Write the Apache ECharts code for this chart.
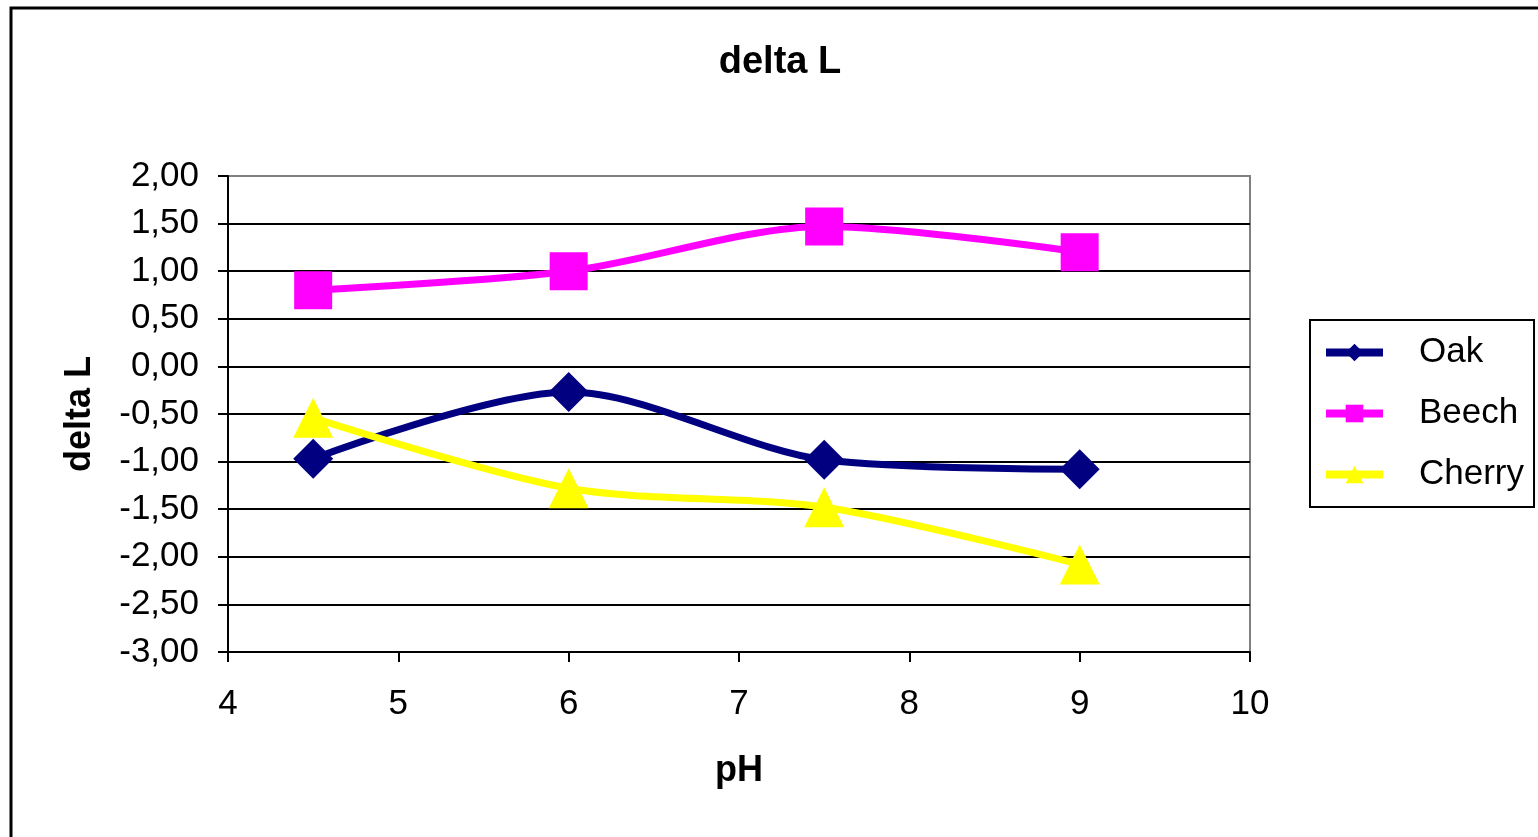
<!DOCTYPE html>
<html>
<head>
<meta charset="utf-8">
<script src="https://cdn.jsdelivr.net/npm/echarts@6/dist/echarts.min.js"></script>
<style>
  html, body { margin: 0; padding: 0; background: #fff; }
  #main { width: 1538px; height: 837px; }
</style>
</head>
<body>
<div id="main"></div>
<script>
// values
var phValues = [4.5, 6, 7.5, 9];
var oakValues = [-0.97, -0.27, -0.98, -1.08];
var beechValues = [0.80, 1.00, 1.47, 1.20];
var cherryValues = [-0.54, -1.28, -1.48, -2.08];
var seriesNames = ['Oak', 'Beech', 'Cherry'];

var chartDom = document.getElementById('main');
var myChart = echarts.init(chartDom);

var font = 'Liberation Sans, Arial, sans-serif';

function pairs(xs, ys) {
    return xs.map((x, i) => [x, ys[i]]);
}

function makeSeries(name, values, color, symbol, size) {
    return {
        name: name,
        type: 'line',
        data: pairs(phValues, values),
        smooth: 0.3,
        symbol: symbol,
        symbolSize: size,
        color: color,
        lineStyle: { width: 7, color: color },
        itemStyle: { color: color },
        emphasis: { disabled: true }
    };
}

var option = {
    animation: false,
    textStyle: { fontFamily: font },
    title: {
        text: 'delta L',
        left: 775,
        top: 39,
        textAlign: 'center',
        textStyle: { fontSize: 38, fontWeight: 'bold', color: '#000', fontFamily: font }
    },
    graphic: [{
        type: 'rect',
        shape: { x: 11, y: 8, width: 1700, height: 1000 },
        style: { fill: 'none', stroke: '#000', lineWidth: 3 },
        silent: true
    }],
    grid: {
        left: 228,
        right: 288,
        top: 176,
        bottom: 185,
        show: true,
        borderColor: '#808080',
        borderWidth: 2,
        backgroundColor: 'transparent'
    },
    legend: {
        data: seriesNames,
        orient: 'vertical',
        left: 1310,
        top: 320,
        padding: [14, 10, 14, 12],
        itemWidth: 57,
        itemHeight: 22,
        itemGap: 24,
        borderColor: '#000',
        borderWidth: 2,
        lineStyle: { width: 8 },
        textStyle: { fontSize: 35, color: '#000', fontFamily: font, lineHeight: 37, padding: [0, 0, 0, 31] }
    },
    xAxis: {
        type: 'value',
        min: 4,
        max: 10,
        interval: 1,
        name: 'pH',
        nameLocation: 'middle',
        nameGap: 101,
        nameTextStyle: { fontSize: 36, fontWeight: 'bold', color: '#000', fontFamily: font },
        axisLine: { show: true, onZero: false, lineStyle: { color: '#000', width: 2 } },
        axisTick: { show: true, inside: false, length: 10, lineStyle: { color: '#000', width: 2 } },
        axisLabel: { fontSize: 35, color: '#000', margin: 35, fontFamily: font },
        splitLine: { show: false }
    },
    yAxis: {
        type: 'value',
        min: -3,
        max: 2,
        interval: 0.5,
        name: 'delta L',
        nameLocation: 'middle',
        nameRotate: 90,
        nameGap: 130,
        nameTextStyle: { fontSize: 36, fontWeight: 'bold', color: '#000', fontFamily: font },
        axisLine: { show: true, lineStyle: { color: '#000', width: 2 } },
        axisTick: { show: true, inside: false, length: 10, lineStyle: { color: '#000', width: 2 } },
        axisLabel: {
            fontSize: 35,
            color: '#000',
            margin: 29,
            fontFamily: font,
            formatter: v => v.toFixed(2).replace('.', ',')
        },
        splitLine: { show: true, showMaxLine: false, lineStyle: { color: '#000', width: 2 } }
    },
    series: [
        makeSeries('Oak', oakValues, '#000080', 'diamond', 40),
        makeSeries('Beech', beechValues, '#FF00FF', 'rect', 38),
        makeSeries('Cherry', cherryValues, '#FFFF00', 'triangle', 40)
    ]
};

option && myChart.setOption(option);
</script>
</body>
</html>
